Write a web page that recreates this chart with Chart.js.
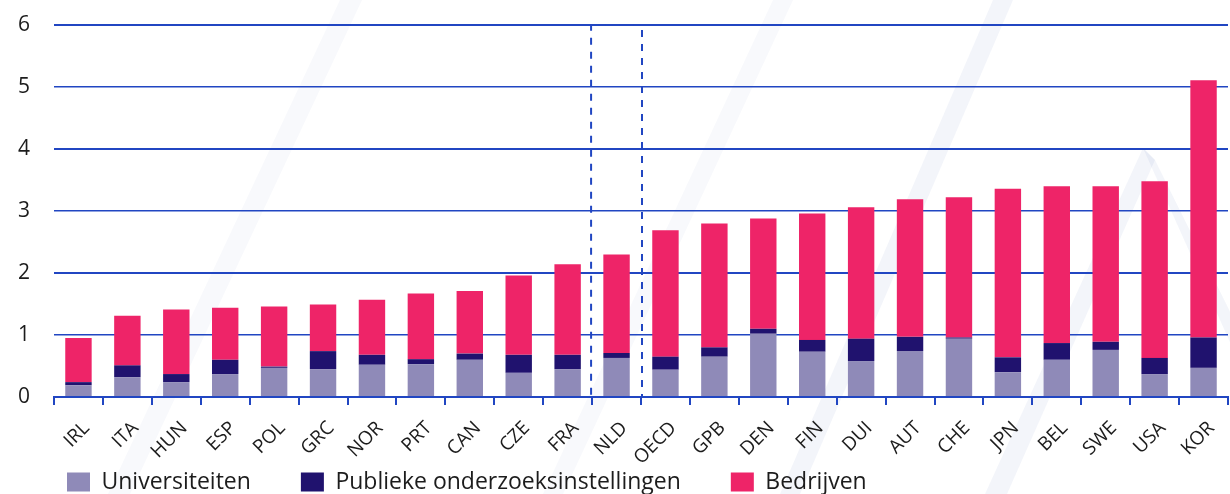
<!DOCTYPE html>
<html lang="nl">
<head>
<meta charset="utf-8">
<title>R&D-uitgaven per sector</title>
<script src="https://cdn.jsdelivr.net/npm/chart.js@4/dist/chart.umd.min.js"></script>
<style>
    html, body { margin: 0; padding: 0; background: #ffffff; }
    #wrap { width: 1230px; height: 494px; overflow: hidden; position: relative; }
</style>
</head>
<body>
<div id="wrap">
    <canvas id="rdChart" width="1230" height="560"></canvas>
</div>
<script>
// Landen (gesorteerd op totaal)
const landen = ['IRL', 'ITA', 'HUN', 'ESP', 'POL', 'GRC', 'NOR', 'PRT', 'CAN', 'CZE', 'FRA', 'NLD',
    'OECD', 'GPB', 'DEN', 'FIN', 'DUI', 'AUT', 'CHE', 'JPN', 'BEL', 'SWE', 'USA', 'KOR'];

// Waarden
const universiteiten = [0.19, 0.32, 0.24, 0.37, 0.47, 0.45, 0.52, 0.53, 0.60, 0.39, 0.45, 0.63,
    0.44, 0.65, 1.02, 0.73, 0.58, 0.74, 0.94, 0.40, 0.60, 0.76, 0.37, 0.47];
const publiek = [0.05, 0.19, 0.13, 0.23, 0.02, 0.29, 0.16, 0.08, 0.10, 0.29, 0.23, 0.08,
    0.21, 0.15, 0.08, 0.19, 0.36, 0.23, 0.02, 0.24, 0.27, 0.13, 0.26, 0.49];
const bedrijven = [0.71, 0.80, 1.04, 0.84, 0.97, 0.75, 0.89, 1.06, 1.01, 1.28, 1.46, 1.59,
    2.04, 2.00, 1.78, 2.04, 2.12, 2.22, 2.26, 2.72, 2.53, 2.51, 2.85, 4.15];

const yTicks = [0, 1, 2, 3, 4, 5, 6];
const uitgelicht = 'NLD'; // land met gestippeld kader

const blauw = '#2146c2';
const tekstKleur = '#1c1c1c';
const lettertype = "'Open Sans', 'Noto Sans', sans-serif";
const legendaPadding = 50;
const canvasHoogte = 560;

// Lichte diagonale strepen op de achtergrond (watermerk)
const watermerkPlugin = {
    id: 'watermerk',
    beforeDraw(chart) {
        const ctx = chart.ctx;
        const vlak = (pts, kleur) => {
            ctx.beginPath();
            ctx.moveTo(pts[0][0], pts[0][1]);
            pts.slice(1).forEach(p => ctx.lineTo(p[0], p[1]));
            ctx.closePath();
            ctx.fillStyle = kleur;
            ctx.fill();
        };
        ctx.save();
        vlak([[340, 0], [362, 0], [130, 494], [108, 494]], 'rgba(40, 70, 170, 0.03)');
        vlak([[773, 0], [793, 0], [563, 494], [543, 494]], 'rgba(40, 70, 170, 0.03)');
        vlak([[993, 0], [1013, 0], [800, 494], [780, 494]], 'rgba(40, 70, 170, 0.055)');
        vlak([[1143, 148], [1155, 160], [1007, 494], [985, 494]], 'rgba(40, 70, 170, 0.055)');
        vlak([[1143, 148], [1155, 160], [1320, 494], [1298, 494]], 'rgba(40, 70, 170, 0.055)');
        ctx.restore();
    }
};

// Legenda omhoog schuiven, zodat de asteksten niet worden afgesneden
const legendaPlugin = {
    id: 'legendaPositie',
    afterLayout(chart) {
        const legenda = chart.legend;
        const nieuweTop = 472 - legendaPadding - 1.5;
        const verschil = legenda.top - nieuweTop;
        legenda.top -= verschil;
        legenda.bottom -= verschil;
    }
};

// Gestippeld kader rond Nederland
const kaderPlugin = {
    id: 'kader',
    afterDatasetsDraw(chart) {
        const x = chart.scales.x;
        const y = chart.scales.y;
        const idx = landen.indexOf(uitgelicht);
        const breedte = x.width / landen.length;
        const midden = x.getPixelForValue(idx);
        const links = midden - breedte / 2 - 1;
        const rechts = midden + breedte / 2 + 1;
        const boven = y.getPixelForValue(yTicks[yTicks.length - 1]);
        const onder = y.getPixelForValue(0);
        const ctx = chart.ctx;
        ctx.save();
        ctx.strokeStyle = blauw;
        ctx.lineWidth = 2;
        ctx.setLineDash([7, 7]);
        ctx.strokeRect(links, boven, rechts - links, onder - boven);
        ctx.restore();
    }
};

const ctx = document.getElementById('rdChart').getContext('2d');
const rdChart = new Chart(ctx, {
    type: 'bar',
    data: {
        labels: landen,
        datasets: [
            {label: 'Universiteiten', data: universiteiten, backgroundColor: '#8f8ab8'},
            {label: 'Publieke onderzoeksinstellingen', data: publiek, backgroundColor: '#20126e'},
            {label: 'Bedrijven', data: bedrijven, backgroundColor: '#ee2468'}
        ]
    },
    options: {
        responsive: false,
        animation: false,
        devicePixelRatio: 1,
        layout: {
            padding: {top: 25, left: 17, right: 2, bottom: 0}
        },
        datasets: {
            bar: {
                categoryPercentage: 1,
                barPercentage: 0.54,
                borderWidth: 0
            }
        },
        plugins: {
            legend: {
                position: 'bottom',
                align: 'start',
                labels: {
                    boxWidth: 23,
                    boxHeight: 19,
                    padding: legendaPadding,
                    color: tekstKleur,
                    font: {family: lettertype, size: 23}
                }
            },
            tooltip: {enabled: false}
        },
        scales: {
            x: {
                stacked: true,
                afterFit: axis => {
                    axis.height = canvasHoogte - 84 - 396;
                    axis.paddingLeft = 0;
                    axis.paddingRight = 0;
                },
                grid: {
                    offset: true,
                    drawOnChartArea: false,
                    color: blauw,
                    lineWidth: 2,
                    tickLength: 8
                },
                border: {color: blauw, width: 2},
                ticks: {
                    autoSkip: false,
                    maxRotation: 45,
                    minRotation: 45,
                    padding: 12,
                    labelOffset: 8,
                    color: tekstKleur,
                    font: {family: lettertype, size: 19}
                }
            },
            y: {
                stacked: true,
                min: 0,
                max: 6,
                afterFit: axis => {
                    axis.width = 37;
                    axis.paddingTop = 0;
                    axis.paddingBottom = 0;
                },
                afterBuildTicks: axis => { axis.ticks = yTicks.map(v => ({value: v})); },
                grid: {
                    color: blauw,
                    lineWidth: c => (c.tick.value % 2 === 0 ? 2 : 1.4),
                    drawTicks: false
                },
                border: {display: false},
                ticks: {
                    padding: 24,
                    color: tekstKleur,
                    font: {family: lettertype, size: 21}
                }
            }
        }
    },
    plugins: [watermerkPlugin, legendaPlugin, kaderPlugin]
});
</script>
</body>
</html>
